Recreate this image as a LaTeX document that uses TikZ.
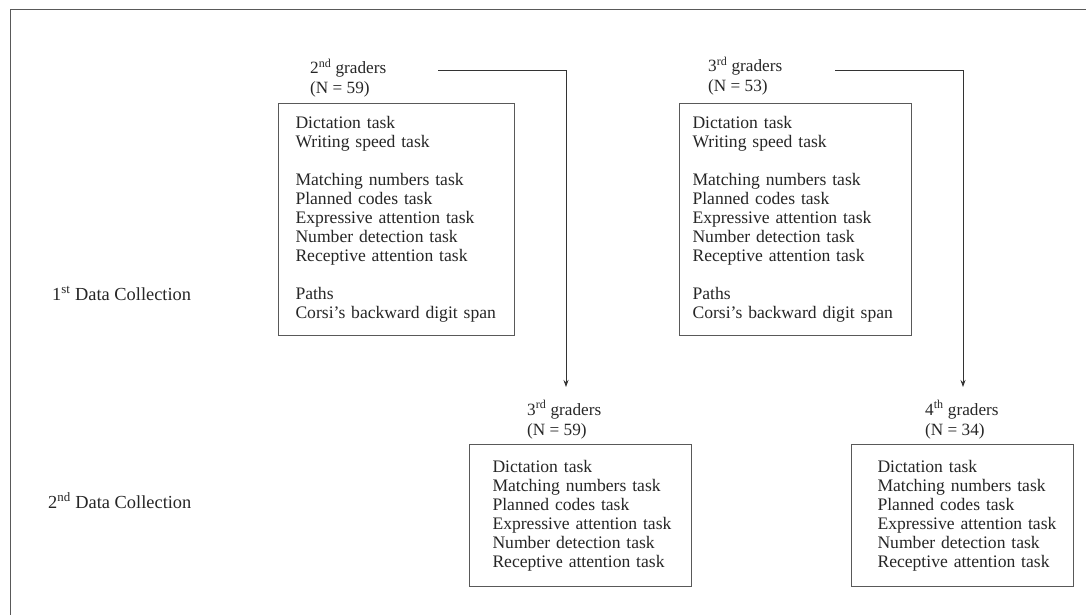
\documentclass[tikz,border=0pt]{standalone}
\usepackage{fontspec}
\setmainfont{Liberation Serif}
\usetikzlibrary{arrows.meta}
\newcommand\tline[1]{\mbox{#1}}
\begin{document}
\begin{tikzpicture}[x=1pt,y=-1pt,
  every node/.style={font=\fontsize{17.6}{19}\selectfont, text=black!85},
  taskbox/.style={draw=black!65, line width=1pt, align=left, anchor=north west, inner ysep=0pt},
  grp/.style={align=left, anchor=base west, inner sep=0pt, font=\fontsize{17.2}{20}\selectfont},
  rowlabel/.style={anchor=base west, inner sep=0pt, font=\fontsize{18.4}{20}\selectfont},
  conn/.style={draw=black!80, line width=0.8pt, -{Stealth[length=7pt,width=5pt]}}
]
\useasboundingbox (0,0) rectangle (1086,615);
% outer frame
\coordinate (fbl) at (10.5,615);
\coordinate (ftl) at (10.5,9.5);
\coordinate (ftr) at (1086,9.5);
\draw[black!65, line width=1.6pt] (fbl) -- (ftl) -- (ftr);

% row labels
\node[rowlabel] (r1) at (52,300) {1\textsuperscript{st} Data Collection};
\node[rowlabel] (r2) at (48,508) {2\textsuperscript{nd} Data Collection};

% group labels
\node[grp] (g1) at (310,94) {2\textsuperscript{nd} graders\\(N = 59)};
\node[grp] (g2) at (708,92) {3\textsuperscript{rd} graders\\(N = 53)};
\node[grp] (g3) at (527,435) {3\textsuperscript{rd} graders\\(N = 59)};
\node[grp] (g4) at (925,435) {4\textsuperscript{th} graders\\(N = 34)};

% boxes
\node[taskbox, minimum width=236, minimum height=232, text width=202, inner xsep=17] (b1) at (278,103)
 {\tline{Dictation task}\\\tline{Writing speed task}\\[19pt]\tline{Matching numbers task}\\\tline{Planned codes task}\\\tline{Expressive attention task}\\\tline{Number detection task}\\\tline{Receptive attention task}\\[19pt]\tline{Paths}\\\tline{Corsi's backward digit span}};
\node[taskbox, minimum width=232, minimum height=232, text width=206, inner xsep=13] (b2) at (679,103)
 {\tline{Dictation task}\\\tline{Writing speed task}\\[19pt]\tline{Matching numbers task}\\\tline{Planned codes task}\\\tline{Expressive attention task}\\\tline{Number detection task}\\\tline{Receptive attention task}\\[19pt]\tline{Paths}\\\tline{Corsi's backward digit span}};
\node[taskbox, minimum width=222, minimum height=142, text width=176, inner xsep=23] (b3) at (469,444)
 {\tline{Dictation task}\\\tline{Matching numbers task}\\\tline{Planned codes task}\\\tline{Expressive attention task}\\\tline{Number detection task}\\\tline{Receptive attention task}};
\node[taskbox, minimum width=222, minimum height=142, text width=170, inner xsep=26] (b4) at (851,444)
 {\tline{Dictation task}\\\tline{Matching numbers task}\\\tline{Planned codes task}\\\tline{Expressive attention task}\\\tline{Number detection task}\\\tline{Receptive attention task}};

% connectors
\coordinate (s1) at (438,70);
\coordinate (e1) at (566,387);
\coordinate (s2) at (835,70);
\coordinate (e2) at (963,387);
\draw[conn] (s1) -| (e1);
\draw[conn] (s2) -| (e2);
\end{tikzpicture}
\end{document}
